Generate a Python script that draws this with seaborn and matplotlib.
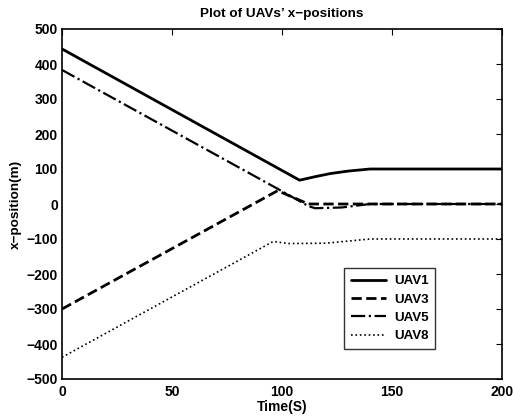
import matplotlib
matplotlib.use("Agg")
import matplotlib.pyplot as plt
import seaborn as sns
import pandas as pd

sns.set_theme(style="white")
plt.rcParams['font.family'] = ['Liberation Sans', 'DejaVu Sans']
plt.rcParams['font.weight'] = 'bold'
plt.rcParams['text.color'] = 'black'
plt.rcParams['axes.labelcolor'] = 'black'

uav1_t = [0, 108, 115, 122, 130, 140, 200]
uav1_x = [443, 68, 78, 87, 94, 100, 100]

uav3_t = [0, 98, 112, 200]
uav3_x = [-300, 38, 0, 0]

uav5_t = [0, 99, 112, 115, 127, 140, 200]
uav5_x = [383, 40, -6, -12, -10, 0, 0]

uav8_t = [0, 96, 103, 120, 130, 140, 200]
uav8_x = [-438, -107, -113, -112, -106, -100, -100]

labels = ["UAV1", "UAV3", "UAV5", "UAV8"]
styles = ["-", "--", "-.", ":"]
widths = [2.0, 2.0, 1.6, 1.2]

series = [(uav1_t, uav1_x), (uav3_t, uav3_x), (uav5_t, uav5_x), (uav8_t, uav8_x)]

fig = plt.figure(figsize=(5.13, 4.20), dpi=100)
ax = fig.add_axes([62/513, 1-379/420, 440/513, 350/420])

for (t, x), lab, ls, lw in zip(series, labels, styles, widths):
    df = pd.DataFrame({"t": t, "x": x})
    sns.lineplot(data=df, x="t", y="x", ax=ax, color="black", linestyle=ls,
                 linewidth=lw, label=lab)

ax.set_xlim(0, 200)
ax.set_ylim(-500, 500)
ax.set_xticks([0, 50, 100, 150, 200])
ax.set_yticks(range(-500, 501, 100))
ax.tick_params(direction="in", top=True, right=True, length=4, width=0.8,
               labelsize=10, colors="black")
ax.tick_params(axis="x", pad=4)
ax.tick_params(axis="y", pad=3)
for lbl in ax.get_xticklabels() + ax.get_yticklabels():
    lbl.set_fontweight("bold")
for sp in ax.spines.values():
    sp.set_color("black")
    sp.set_linewidth(1.2)

ax.set_title("Plot of UAVs\u2019 x\u2212positions", fontsize=9.7, fontweight="bold",
             pad=9, color="black")
ax.set_xlabel("Time(S)", fontsize=10, fontweight="bold", labelpad=1, color="black")
ax.set_ylabel("x\u2212position(m)", fontsize=9.7, fontweight="bold", labelpad=3,
              color="black")

leg = ax.legend(loc="lower right", bbox_to_anchor=(0.848, 0.086), fontsize=9.6,
                frameon=True, fancybox=False, handlelength=2.6, borderpad=0.5,
                labelspacing=0.45, handletextpad=0.6, borderaxespad=0)
leg.get_frame().set_edgecolor("black")
leg.get_frame().set_linewidth(1.0)
for txt in leg.get_texts():
    txt.set_fontweight("bold")
    txt.set_color("black")

fig.savefig("out.png", dpi=100)
